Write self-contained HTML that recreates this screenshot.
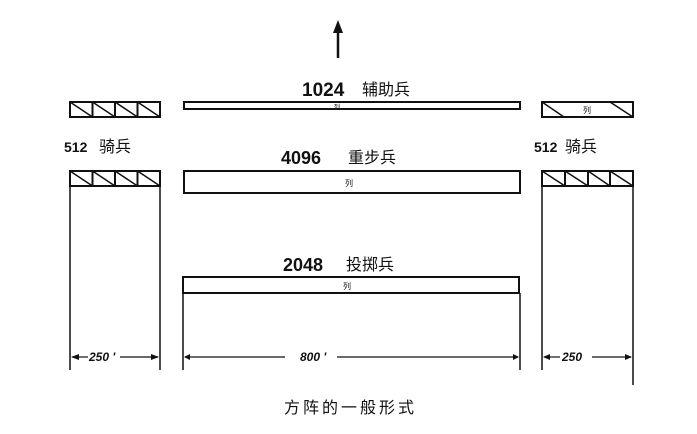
<!DOCTYPE html>
<html><head><meta charset="utf-8"><style>
html,body{margin:0;padding:0;background:#fff;}
svg{display:block;}
.n{font-family:"Liberation Sans","Noto Sans CJK SC",sans-serif;font-weight:bold;fill:#111;}
.c{font-family:"Liberation Sans","Noto Sans CJK SC",sans-serif;fill:#111;}
</style></head><body>
<svg width="697" height="434" viewBox="0 0 697 434" xmlns="http://www.w3.org/2000/svg">
<g stroke="#111" fill="none" stroke-width="2">
<line x1="338" y1="30" x2="338" y2="58" stroke-width="2.5"/>
<rect x="70" y="102" width="90" height="15"/>
<line x1="92.5" y1="102" x2="92.5" y2="117"/><line x1="115" y1="102" x2="115" y2="117"/><line x1="137.5" y1="102" x2="137.5" y2="117"/>
<path d="M70 102 L92.5 117 M92.5 102 L115 117 M115 102 L137.5 117 M137.5 102 L160 117" stroke-width="1.5"/>
<rect x="70" y="171" width="90" height="15"/>
<line x1="92.5" y1="171" x2="92.5" y2="186"/><line x1="115" y1="171" x2="115" y2="186"/><line x1="137.5" y1="171" x2="137.5" y2="186"/>
<path d="M70 171 L92.5 186 M92.5 171 L115 186 M115 171 L137.5 186 M137.5 171 L160 186" stroke-width="1.5"/>
<rect x="542" y="102" width="91" height="15"/>
<path d="M542 102 L564 117 M610 102 L633 117" stroke-width="1.5"/>
<rect x="542" y="171" width="91" height="15"/>
<line x1="565" y1="171" x2="565" y2="186"/><line x1="588" y1="171" x2="588" y2="186"/><line x1="610" y1="171" x2="610" y2="186"/>
<path d="M542 171 L565 186 M565 171 L588 186 M588 171 L610 186 M610 171 L633 186" stroke-width="1.5"/>
<rect x="184" y="102" width="336" height="7"/>
<rect x="184" y="171" width="336" height="22"/>
<rect x="183" y="277" width="336" height="16"/>
<line x1="70" y1="186" x2="70" y2="370" stroke-width="1.5"/>
<line x1="160" y1="186" x2="160" y2="370" stroke-width="1.5"/>
<line x1="542" y1="186" x2="542" y2="370" stroke-width="1.5"/>
<line x1="633" y1="186" x2="633" y2="385" stroke-width="1.5"/>
<line x1="183" y1="293" x2="183" y2="370" stroke-width="1.5"/>
<line x1="520" y1="293" x2="520" y2="370" stroke-width="1.5"/>
<line x1="72" y1="357" x2="88" y2="357" stroke-width="1.2"/>
<line x1="120" y1="357" x2="158" y2="357" stroke-width="1.2"/>
<line x1="185" y1="357" x2="285" y2="357" stroke-width="1.2"/>
<line x1="337" y1="357" x2="518" y2="357" stroke-width="1.2"/>
<line x1="544" y1="357" x2="560" y2="357" stroke-width="1.2"/>
<line x1="592" y1="357" x2="631" y2="357" stroke-width="1.2"/>
</g>
<g fill="#111">
<polygon points="338,20 333,33 343,33"/>
<polygon points="71,357 79,354 79,360"/><polygon points="159,357 151,354 151,360"/>
<polygon points="184,357 190,354 190,360"/><polygon points="519,357 513,354 513,360"/>
<polygon points="543,357 550,354 550,360"/><polygon points="632,357 625,354 625,360"/>
</g>
<text x="302" y="96" class="n" font-size="19">1024</text>
<text x="362" y="95" class="c" font-size="16">辅助兵</text>
<text x="64" y="152" class="n" font-size="14">512</text>
<text x="99" y="152" class="c" font-size="16">骑兵</text>
<text x="534" y="152" class="n" font-size="14">512</text>
<text x="565" y="152" class="c" font-size="16">骑兵</text>
<text x="281" y="164" class="n" font-size="18">4096</text>
<text x="348" y="163" class="c" font-size="16">重步兵</text>
<text x="283" y="271" class="n" font-size="18">2048</text>
<text x="346" y="270" class="c" font-size="16">投掷兵</text>
<text x="334" y="109" class="c" font-size="6">列</text>
<text x="345" y="186" class="c" font-size="8">列</text>
<text x="343" y="289" class="c" font-size="8">列</text>
<text x="583" y="113" class="c" font-size="8">列</text>
<text x="89" y="361" class="n" font-size="12" font-style="italic">250 '</text>
<text x="300" y="361" class="n" font-size="12" font-style="italic">800 '</text>
<text x="562" y="361" class="n" font-size="12" font-style="italic">250</text>
<text x="284" y="413" class="c" font-size="16" letter-spacing="3">方阵的一般形式</text>
</svg>
</body></html>
